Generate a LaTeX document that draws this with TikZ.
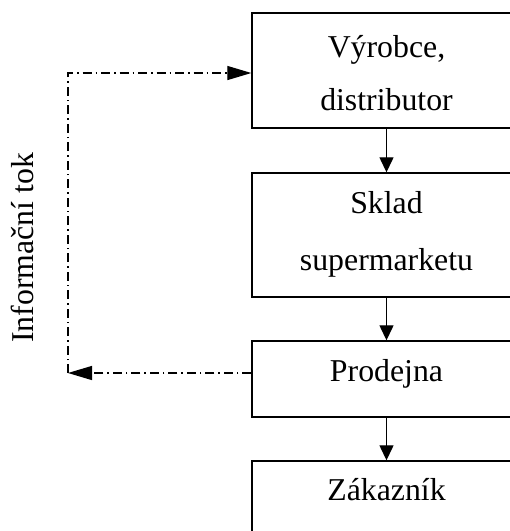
\documentclass[tikz,border=0pt]{standalone}
\usepackage{fontspec}
\setmainfont{Liberation Serif}
\usetikzlibrary{arrows.meta}
\begin{document}
\begin{tikzpicture}[x=1pt,y=-1pt,
  stagebox/.style={draw, line width=1.4pt, minimum width=269pt, inner sep=0pt},
  lbl/.style={anchor=base, inner sep=0pt, font=\fontsize{31.8}{38}\selectfont},
  flow/.style={line width=1.3pt, -{Triangle[length=15pt,width=14pt]}},
  info/.style={line width=1.3pt, dash pattern=on 9pt off 4pt on 1.5pt off 4pt, -{Triangle[length=24pt,width=14pt]}}]
\useasboundingbox (0,0) rectangle (510,531);
\clip (0,0) rectangle (510,531);
\node[stagebox, minimum height=115pt] (b1) at (386.5,70.5) {};
\node[stagebox, minimum height=124pt] (b2) at (386.5,235) {};
\node[stagebox, minimum height=76pt] (b3) at (386.5,379) {};
\node[stagebox, minimum height=80pt] (b4) at (386.5,501) {};
\node[lbl] (t1a) at (386.5,57) {Výrobce,};
\node[lbl] (t1b) at (386.5,110) {distributor};
\node[lbl] (t2a) at (386.5,213) {Sklad};
\node[lbl] (t2b) at (386.5,270) {supermarketu};
\node[lbl] (t3) at (386.5,381) {Prodejna};
\node[lbl] (t4) at (386.5,500) {Zákazník};
\draw[flow] (b1) -- (b2);
\draw[flow] (b2) -- (b3);
\draw[flow] (b3) -- (b4);
\coordinate (tl) at (68,73);
\coordinate (bl) at (68,373);
\draw[info] (bl) -- (tl) -- (tl -| b1.west);
\draw[info] (bl -| b3.west) -- (bl);
\node[lbl, anchor=center, rotate=90] (it) at (22,248) {Informační tok};
\end{tikzpicture}
\end{document}
